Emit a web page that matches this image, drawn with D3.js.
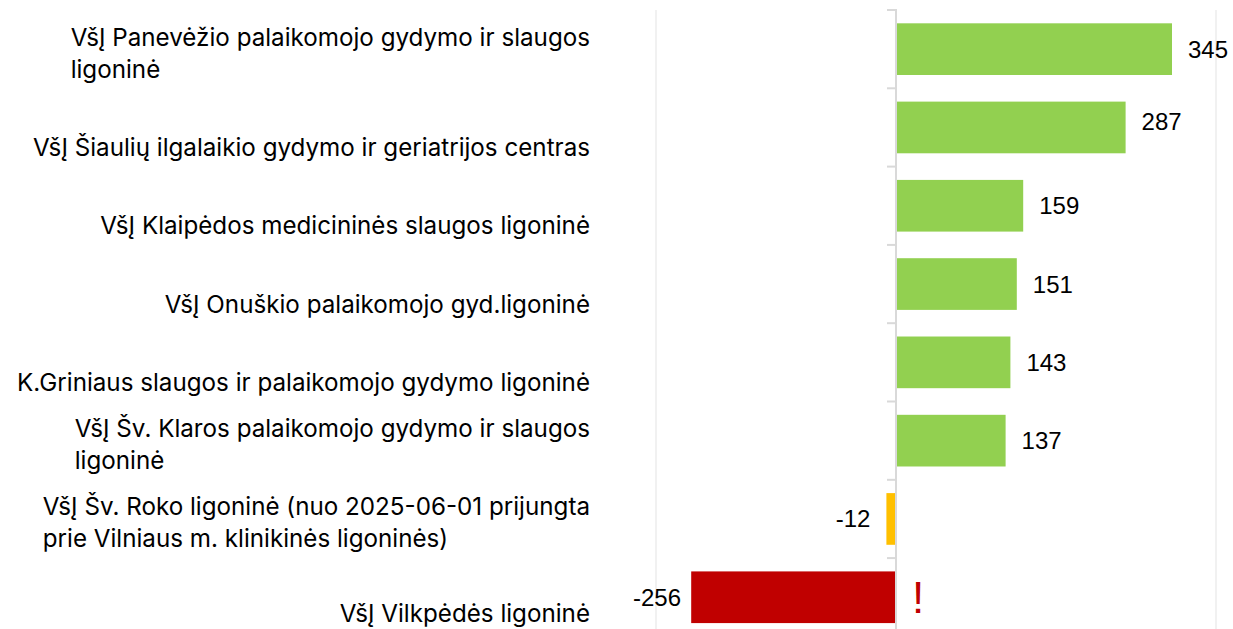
<!DOCTYPE html>
<html>
<head>
<meta charset="utf-8">
<script src="https://cdn.jsdelivr.net/npm/d3@7"></script>
<style>
  body { margin: 0; background: #fff; }
  svg { display: block; }
  .cat { font-family: "Inter", sans-serif; font-size: 24.2px; fill: #000; }
  .val { font-family: "Liberation Sans", Arial, sans-serif; font-size: 24px; fill: #000; }
</style>
</head>
<body>
<svg id="chart"></svg>
<script>
// category labels, already split into lines as in the picture
const categories = [
  ["VšĮ Panevėžio palaikomojo gydymo ir slaugos", "ligoninė"],
  ["VšĮ Šiaulių ilgalaikio gydymo ir geriatrijos centras"],
  ["VšĮ Klaipėdos medicininės slaugos ligoninė"],
  ["VšĮ Onuškio palaikomojo gyd.ligoninė"],
  ["K.Griniaus slaugos ir palaikomojo gydymo ligoninė"],
  ["VšĮ Šv. Klaros palaikomojo gydymo ir slaugos", "ligoninė"],
  ["VšĮ Šv. Roko ligoninė (nuo 2025-06-01 prijungta", "prie Vilniaus m. klinikinės ligoninės)"],
  ["VšĮ Vilkpėdės ligoninė"]
];
const values = [345, 287, 159, 151, 143, 137, -12, -256];
const flags = ["", "", "", "", "", "", "", "!"];
const xDomain = [-300, 400];

const W = 1233, H = 629;
const svg = d3.select("#chart").attr("width", W).attr("height", H);

const keys = categories.map((c, i) => i);
const x = d3.scaleLinear().domain(xDomain).range([656, 1216]);
const y = d3.scaleBand().domain(keys).range([10, 10 + 8 * 78.3]).paddingInner(0.34).paddingOuter(0.17);

function colorFor(v) {
  if (v >= 0) return "#92d050";
  if (v > -50) return "#ffc000";
  return "#c00000";
}

// light gridlines at the ends of the value axis
svg.append("g").selectAll("line").data(xDomain).join("line")
  .attr("x1", d => x(d)).attr("x2", d => x(d))
  .attr("y1", 10).attr("y2", H)
  .attr("stroke", "#ececec").attr("stroke-width", 1.5);

// bars
svg.append("g").selectAll("rect").data(values).join("rect")
  .attr("x", d => x(Math.min(0, d)))
  .attr("width", d => Math.abs(x(d) - x(0)))
  .attr("y", (d, i) => y(i))
  .attr("height", y.bandwidth())
  .attr("fill", d => colorFor(d));

// category axis at zero, ticks between categories
const step = y.step();
const x0 = x(0);
const axis = svg.append("g");
axis.append("line")
  .attr("x1", x0).attr("x2", x0).attr("y1", 9).attr("y2", H)
  .attr("stroke", "#d9d9d9").attr("stroke-width", 2);
axis.selectAll("line.tick").data(d3.range(keys.length + 1)).join("line")
  .attr("class", "tick")
  .attr("x1", x0 - 9).attr("x2", x0)
  .attr("y1", i => 10 + i * step).attr("y2", i => 10 + i * step)
  .attr("stroke", "#d9d9d9").attr("stroke-width", 2);

// category labels: block right-aligned at the axis gutter, lines left-aligned inside it
// (single-line labels sit in the second line slot, as Excel draws them; kept inside the canvas)
const lineH = 32;
const labelRight = 590;
const labelBottom = 613;
const labels = svg.append("g");
categories.forEach((lines, i) => {
  const cy = y(i) + y.bandwidth() / 2;
  const t = labels.append("text").attr("class", "cat").attr("text-anchor", "start");
  const startY = lines.length === 1 ? Math.min(cy + 20, labelBottom) : cy - 12;
  const spans = lines.map((ln, j) =>
    t.append("tspan").attr("y", startY + j * lineH).attr("dominant-baseline", "central").text(ln));
  const maxW = d3.max(spans, s => s.node().getComputedTextLength());
  spans.forEach(s => s.attr("x", labelRight - maxW));
});

// value labels (the 287 label sits a little higher in the original)
const labelNudge = { 1: -6 };
const leftLimit = 633;
svg.append("g").selectAll("text").data(values).join("text")
  .attr("class", "val")
  .attr("y", (d, i) => y(i) + y.bandwidth() / 2 + (labelNudge[i] || 0))
  .attr("dominant-baseline", "central")
  .text(d => d)
  .each(function (d) {
    const t = d3.select(this);
    if (d >= 0) {
      t.attr("x", x(d) + 16).attr("text-anchor", "start");
    } else {
      const w = this.getComputedTextLength();
      const start = Math.max(leftLimit, x(d) - 16 - w);
      t.attr("x", start).attr("text-anchor", "start");
    }
  });

// warning marks
svg.append("g").selectAll("text").data(values).join("text")
  .attr("x", x0 + 22)
  .attr("y", (d, i) => y(i) + y.bandwidth() / 2)
  .attr("dominant-baseline", "central")
  .attr("text-anchor", "middle")
  .style("font-family", "Liberation Sans, Arial, sans-serif")
  .style("font-size", "44px")
  .attr("fill", "#c00000")
  .text((d, i) => flags[i]);
</script>
</body>
</html>
